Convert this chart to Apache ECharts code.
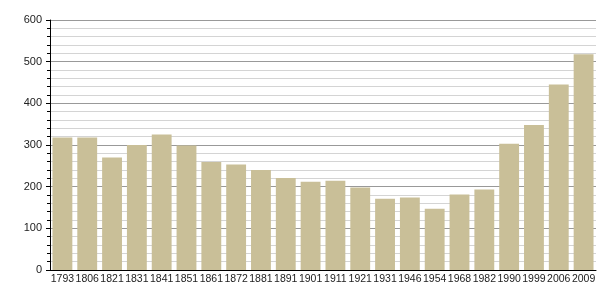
<!DOCTYPE html>
<html><head><meta charset="utf-8">
<script src="https://cdn.jsdelivr.net/npm/echarts@6/dist/echarts.min.js"></script>
<style>html,body{margin:0;padding:0;background:#fff}#c{width:605px;height:300px}</style>
</head><body><div id="c"></div>
<script>
const years = ['1793','1806','1821','1831','1841','1851','1861','1872','1881','1891','1901','1911','1921','1931','1946','1954','1968','1982','1990','1999','2006','2009'];
const population = [318,318,270,300,325,299,259,253,240,221,212,214,198,171,174,147,181,193,303,348,445,518];
const yTicks = [0,100,200,300,400,500,600];

const chart = echarts.init(document.getElementById('c'), null, {renderer:'canvas'});
chart.setOption({
  animation:false,
  backgroundColor:'#fff',
  grid:{left:50,right:9,top:20,bottom:30,containLabel:false},
  xAxis:{type:'category',data:years,
    axisLine:{lineStyle:{color:'#000',width:1}},
    axisTick:{show:false},
    axisLabel:{color:'#222',fontFamily:'Liberation Sans, Arial',fontSize:10.5,interval:0,margin:4},
    splitLine:{show:false}},
  yAxis:{type:'value',min:0,max:600,interval:100,
    axisLine:{show:true,lineStyle:{color:'#000',width:1}},
    axisTick:{show:true,length:4,inside:false,lineStyle:{color:'#000'}},
    minorTick:{show:true,splitNumber:5,length:3,lineStyle:{color:'#000'}},
    axisLabel:{color:'#222',fontFamily:'Liberation Sans, Arial',fontSize:11,margin:8,
      formatter:v=>yTicks.includes(v)?String(v):''},
    splitLine:{show:true,lineStyle:{color:'#999',width:1}},
    minorSplitLine:{show:true,lineStyle:{color:'#d4d4d4',width:1}}},
  series:[{type:'bar',data:population,barCategoryGap:'20%',
    itemStyle:{color:'#c9bf98'},z:3}]
});
</script></body></html>
